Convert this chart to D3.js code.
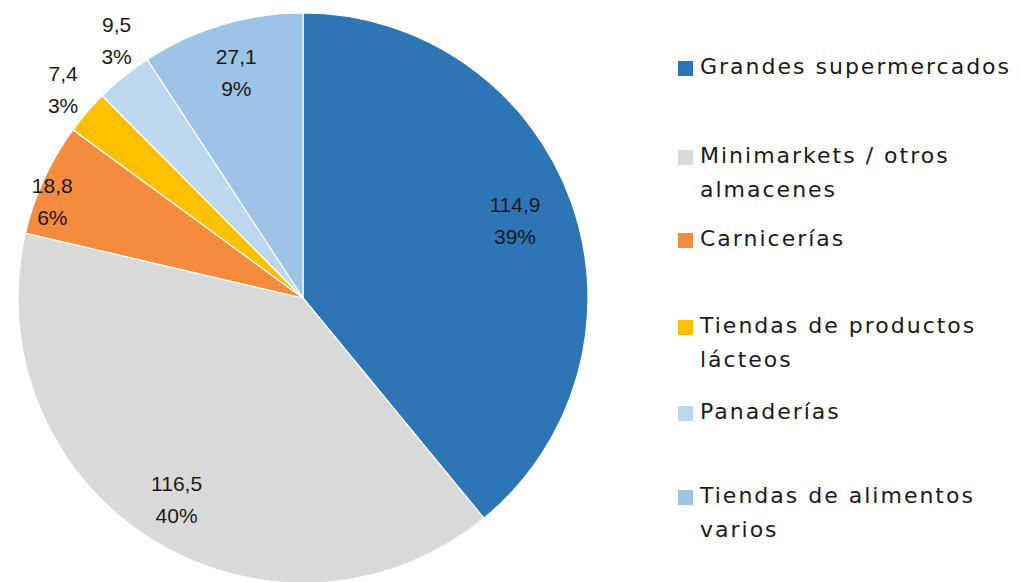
<!DOCTYPE html>
<html>
<head>
<meta charset="utf-8">
<script src="https://cdn.jsdelivr.net/npm/d3@7"></script>
<style>
  html, body { margin: 0; padding: 0; background: #fff; }
  svg { display: block; }
</style>
</head>
<body>
<svg id="chart" width="1020" height="582"></svg>
<script>
const categories = [
  "Grandes supermercados",
  "Minimarkets / otros almacenes",
  "Carnicerías",
  "Tiendas de productos lácteos",
  "Panaderías",
  "Tiendas de alimentos varios"
];
const values = [114.9, 116.5, 18.8, 7.4, 9.5, 27.1];
const percentLabels = ["39%", "40%", "6%", "3%", "3%", "9%"];
const legendLines = [
  ["Grandes supermercados"],
  ["Minimarkets / otros", "almacenes"],
  ["Carnicerías"],
  ["Tiendas de productos", "lácteos"],
  ["Panaderías"],
  ["Tiendas de alimentos", "varios"]
];
const colors = ["#2E75B6", "#D9D9D9", "#F58B3C", "#FFC000", "#BDD7EE", "#9DC3E6"];

const svg = d3.select("#chart");
const cx = 303, cy = 298, r = 285;
const fmt = v => String(v).replace(".", ",");

const pie = d3.pie().sort(null).value(d => d)(values);
const arc = d3.arc().innerRadius(0).outerRadius(r);

const g = svg.append("g").attr("transform", `translate(${cx},${cy})`);
g.selectAll("path").data(pie).enter().append("path")
  .attr("d", arc)
  .attr("fill", (d, i) => colors[i])
  .attr("stroke", "#fff")
  .attr("stroke-width", 1.2);

// label radius factors (layout only)
const labelR = [0.79, 0.84, 0.94, 1.11, 1.11, 0.82];
const labelAngleShift = [0, 0, -0.07, 0, 0.05, 0];
const lab = g.selectAll("text.lbl").data(pie).enter().append("text")
  .attr("class", "lbl")
  .attr("font-family", "'Liberation Sans', Arial, sans-serif")
  .attr("font-size", 21)
  .attr("fill", "#1a1a1a")
  .attr("text-anchor", "middle")
  .attr("transform", (d, i) => {
    const a = (d.startAngle + d.endAngle) / 2 + labelAngleShift[i];
    const rr = r * labelR[i];
    return `translate(${Math.sin(a) * rr},${-Math.cos(a) * rr})`;
  });
lab.append("tspan").attr("x", 0).attr("y", -16).attr("dominant-baseline", "middle")
  .text((d, i) => fmt(values[i]));
lab.append("tspan").attr("x", 0).attr("y", 16).attr("dominant-baseline", "middle")
  .text((d, i) => percentLabels[i]);

// Legend
const legendY = [68, 157, 240, 327, 413, 497];
const lg = svg.append("g");
categories.forEach((c, i) => {
  const item = lg.append("g").attr("transform", `translate(678,${legendY[i]})`);
  item.append("rect").attr("x", 0).attr("y", -7).attr("width", 15).attr("height", 15)
    .attr("fill", colors[i]);
  const t = item.append("text")
    .attr("font-family", "'DejaVu Sans', sans-serif")
    .attr("font-size", 22)
    .attr("letter-spacing", 2)
    .attr("fill", "#1a1a1a");
  legendLines[i].forEach((ln, j) => {
    t.append("tspan").attr("x", 22).attr("y", j * 34).attr("dominant-baseline", "middle").text(ln);
  });
});
</script>
</body>
</html>
